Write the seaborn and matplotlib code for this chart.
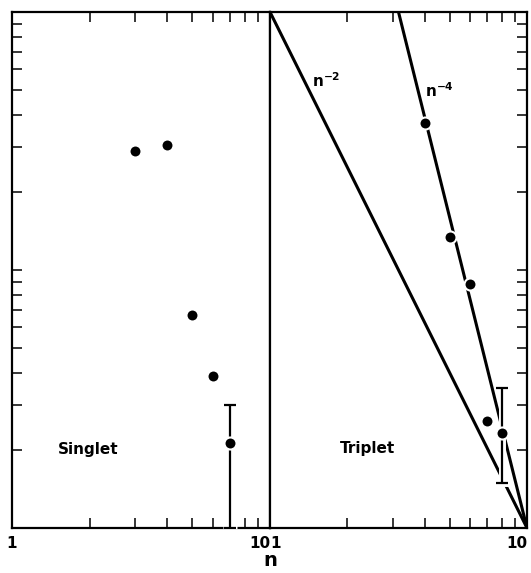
import numpy as np
import matplotlib
matplotlib.use("Agg")
import matplotlib.pyplot as plt
import seaborn as sns
from matplotlib.ticker import NullFormatter, LogLocator

# --- data ---
singlet_n = [3, 4, 5, 6, 7]
singlet_y = [28.8, 30.4, 6.7, 3.9, 2.14]
singlet_err_n = [7]
singlet_err_y = [2.14]
singlet_err_lo = [1.0]
singlet_err_hi = [3.0]

triplet_n = [4, 5, 6, 7, 8]
triplet_y = [37.0, 13.4, 8.8, 2.6, 2.34]
triplet_err_n = [8]
triplet_err_y = [2.34]
triplet_err_lo = [1.5]
triplet_err_hi = [3.5]

# power-law guide lines: y = norm * n^-k
guide_powers = [2, 4]
guide_norms = [100.0, 1.0e4]
guide_labels = ["n$^{-2}$", "n$^{-4}$"]
guide_label_pos = [(1.46, 54.4), (4.0, 49.7)]

sns.set_theme(style="ticks")
plt.rcParams["font.family"] = ["DejaVu Sans"]
plt.rcParams["mathtext.default"] = "bf"
plt.rcParams["text.color"] = "black"

W, H = 531, 573
fig = plt.figure(figsize=(W / 100, H / 100), dpi=100)
ax1 = fig.add_axes([12 / W, 45 / H, 258 / W, 516 / H])
ax2 = fig.add_axes([270 / W, 45 / H, 257 / W, 516 / H])


def draw_errbar(ax, n, y, lo, hi):
    yerr = [np.array(y) - np.array(lo), np.array(hi) - np.array(y)]
    # white halo first so crossing lines get broken like the original
    ax.errorbar(n, y, yerr=yerr, fmt="none", ecolor="white", elinewidth=5,
                capsize=5, capthick=5, zorder=3)
    ax.errorbar(n, y, yerr=yerr, fmt="none", ecolor="black", elinewidth=1.6,
                capsize=4, capthick=1.6, zorder=4)


# singlet panel
draw_errbar(ax1, singlet_err_n, singlet_err_y, singlet_err_lo, singlet_err_hi)
sns.scatterplot(x=singlet_n, y=singlet_y, ax=ax1, color="black", s=75,
                edgecolor="white", linewidth=1.5, zorder=5, legend=False)
ax1.text(1.50, 2.01, "Singlet", fontsize=11, fontweight="bold", va="center")

# triplet panel
n_line = np.logspace(0, 1, 200)
for k, a in zip(guide_powers, guide_norms):
    sns.lineplot(x=n_line, y=a * n_line ** (-k), ax=ax2, color="black",
                 lw=2.2, zorder=2, sort=False)
draw_errbar(ax2, triplet_err_n, triplet_err_y, triplet_err_lo, triplet_err_hi)
sns.scatterplot(x=triplet_n, y=triplet_y, ax=ax2, color="black", s=75,
                edgecolor="white", linewidth=1.5, zorder=5, legend=False)
for lab, (x, y) in zip(guide_labels, guide_label_pos):
    ax2.text(x, y, lab, fontsize=11, fontweight="bold", va="center", ha="left")
ax2.text(1.87, 2.03, "Triplet", fontsize=11, fontweight="bold", va="center")

for ax in (ax1, ax2):
    ax.set_xscale("log")
    ax.set_yscale("log")
    ax.set_xlim(1, 10)
    ax.set_ylim(1, 100)
    ax.set_xlabel("")
    ax.set_ylabel("")
    ax.yaxis.set_minor_locator(LogLocator(base=10, subs=np.arange(2, 10)))
    ax.xaxis.set_minor_locator(LogLocator(base=10, subs=np.arange(2, 10)))
    ax.yaxis.set_major_formatter(NullFormatter())
    ax.yaxis.set_minor_formatter(NullFormatter())
    ax.xaxis.set_minor_formatter(NullFormatter())
    ax.set_xticks([1, 10])
    ax.set_xticklabels(["1", "10"], fontsize=11, fontweight="bold")
    for s in ax.spines.values():
        s.set_visible(True)
        s.set_linewidth(1.6)
        s.set_color("black")
    ax.tick_params(which="both", direction="in", top=True, bottom=True,
                   length=7, width=1.1, color="black", labelcolor="black")
    ax.tick_params(axis="x", which="major", length=0, pad=6)

ax1.tick_params(which="both", left=True, right=False, labelleft=False)
ax2.tick_params(which="both", left=False, right=True, labelleft=False,
                labelright=False)

lbls = ax1.get_xticklabels()
lbls[0].set_ha("center")
lbls[1].set_ha("right")
lbls = ax2.get_xticklabels()
lbls[0].set_ha("left")
lbls[1].set_ha("right")

fig.text(270 / W, 1 - 560 / H, "n", ha="center", va="center",
         fontsize=14, fontweight="bold")

fig.savefig("out.png", dpi=100)
